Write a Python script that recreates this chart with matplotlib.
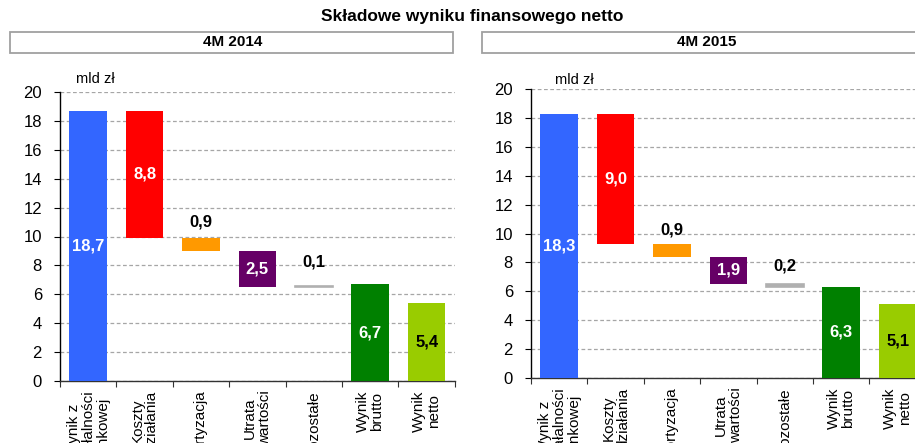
import matplotlib
matplotlib.use("Agg")
import matplotlib.pyplot as plt
from matplotlib.patches import Rectangle
import numpy as np

plt.rcParams['font.family'] = ['Liberation Sans', 'DejaVu Sans']

# ---- data ----
title = "Składowe wyniku finansowego netto"
panel_titles = ["4M 2014", "4M 2015"]
categories = ["Wynik z\ndziałalności\nbankowej", "Koszty\ndziałania", "Amortyzacja",
              "Utrata\nwartości", "Pozostałe", "Wynik\nbrutto", "Wynik\nnetto"]
# signed components; first and last two are totals (from zero)
values_2014 = [18.7, -8.8, -0.9, -2.5, 0.1, 6.7, 5.4]
values_2015 = [18.3, -9.0, -0.9, -1.9, -0.2, 6.3, 5.1]
is_total = [True, False, False, False, False, True, True]
value_labels_2014 = ["18,7", "8,8", "0,9", "2,5", "0,1", "6,7", "5,4"]
value_labels_2015 = ["18,3", "9,0", "0,9", "1,9", "0,2", "6,3", "5,1"]
y_unit = "mld zł"
yticks = [0, 2, 4, 6, 8, 10, 12, 14, 16, 18, 20]

# ---- style ----
colors = ["#3366FF", "#FF0000", "#FF9900", "#660066", "#B0B0B0", "#008000", "#99CC00"]
label_colors = ["white", "white", "black", "white", "black", "white", "black"]
label_inside = [True, True, False, True, False, True, True]

W, H = 915, 443
fig = plt.figure(figsize=(W / 100, H / 100), dpi=100)

def fx(px):
    return px / W

def fy(py):
    return 1 - py / H

panels = [
    dict(vals=values_2014, labels=value_labels_2014, x0=60, y0=381, y20=92,
         box=(10, 32, 443, 21), head_x=233, unit_x=0.041, unit_y=1.02,
         above_off=[None, None, 8, None, 16, None, None]),
    dict(vals=values_2015, labels=value_labels_2015, x0=531, y0=378, y20=89,
         box=(482, 32, 460, 21), head_x=707, unit_x=0.061, unit_y=1.008,
         above_off=[None, None, 6, None, 11, None, None]),
]

cat_w = 56.4
for p, ptitle in zip(panels, panel_titles):
    ax = fig.add_axes([fx(p['x0']), fy(p['y0']), fx(7 * cat_w), (p['y0'] - p['y20']) / H])
    vals = p['vals']
    bottoms, heights = [], []
    running = 0.0
    for v, tot in zip(vals, is_total):
        if tot:
            b, h = 0.0, v
            running = v
        else:
            new = running + v
            b, h = min(running, new), abs(v)
            running = new
        bottoms.append(b)
        heights.append(h)
    x = np.arange(len(categories))
    for i in x:
        lw = 1.2 if heights[i] < 0.3 else 0
        ax.bar(i, heights[i], bottom=bottoms[i], width=0.67, color=colors[i],
               edgecolor=colors[i], linewidth=lw, zorder=3)
        if label_inside[i]:
            ax.text(i, bottoms[i] + heights[i] / 2, p['labels'][i], ha='center', va='center',
                    color=label_colors[i], fontsize=12, fontweight='bold', zorder=4)
        else:
            ax.annotate(p['labels'][i], (i, bottoms[i] + heights[i]),
                        xytext=(0, p['above_off'][i] * 0.72), textcoords='offset points',
                        ha='center', va='bottom', color=label_colors[i],
                        fontsize=12, fontweight='bold', zorder=4)
    ax.set_xlim(-0.5, 6.5)
    ax.set_ylim(0, 20)
    ax.set_yticks(yticks)
    ax.set_yticklabels([str(t) for t in yticks], fontsize=12)
    ax.yaxis.grid(True, linestyle=(0, (3, 2)), color='#A6A6A6', linewidth=0.9, zorder=0)
    ax.set_axisbelow(True)
    ax.set_xticks(np.arange(-0.5, 7, 1))
    ax.set_xticklabels([])
    ax.set_xticks(x, minor=True)
    ax.set_xticklabels(categories, minor=True, rotation=90, fontsize=11,
                       multialignment='center', va='top', ha='center', linespacing=1.05)
    ax.tick_params(axis='x', which='minor', length=0, pad=7)
    ax.tick_params(axis='x', which='major', length=4, direction='out', color='#333333')
    ax.tick_params(axis='y', length=4, direction='out', pad=9)
    for s in ['top', 'right']:
        ax.spines[s].set_visible(False)
    ax.spines['left'].set_linewidth(1.0)
    ax.spines['bottom'].set_linewidth(1.0)
    ax.spines['bottom'].set_color('#333333')
    ax.text(p['unit_x'], p['unit_y'], y_unit, transform=ax.transAxes, fontsize=10.5,
            ha='left', va='bottom')

    bx, by, bw, bh = p['box']
    fig.patches.append(Rectangle((fx(bx), fy(by + bh)), fx(bw), bh / H, transform=fig.transFigure,
                                 facecolor='white', edgecolor='#A0A0A0', linewidth=1.3))
    fig.text(fx(p['head_x']), fy(by + bh / 2), ptitle, ha='center', va='center',
             fontsize=11, fontweight='bold')

fig.text(fx(472), fy(17), title, ha='center', va='center', fontsize=12.5, fontweight='bold')

fig.savefig("out.png", dpi=100)
